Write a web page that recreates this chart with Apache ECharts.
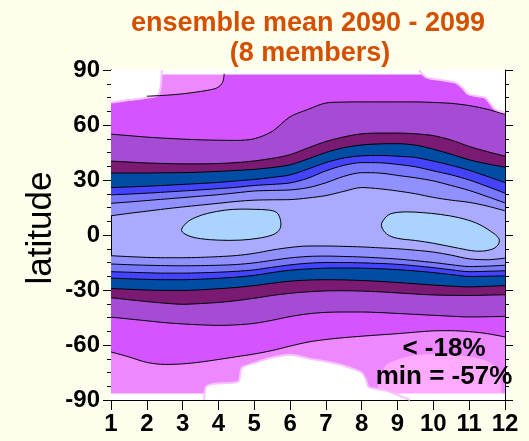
<!DOCTYPE html>
<html><head><meta charset="utf-8">
<script src="https://cdn.jsdelivr.net/npm/echarts@6/dist/echarts.min.js"></script>
<style>html,body{margin:0;padding:0;background:#ffffee;}#c{width:529px;height:441px;}</style>
</head><body><div id="c"></div>
<script>
// ---------- data ----------
const months = [1,1.5,2,2.5,3,3.5,4,4.5,5,5.5,6,6.5,7,7.5,8,8.5,9,9.5,10,10.5,11,11.5,12];
const monthTicks = [1,2,3,4,5,6,7,8,9,10,11,12];
const latTicks = [-90,-60,-30,0,30,60,90];
// Northern contour lines (equator -> pole)
const latN1 = [10.5,11.8,13,14.2,15.3,16.3,17.3,18.3,19,19.2,19.3,20.2,21.5,23.8,25.9,25.2,24,22.5,20.5,19,17.8,15.8,13.2];
const latN2 = [17.3,18,18.8,19.6,20.4,21.2,22,23,24,24.3,24.6,25.8,28.5,32,34,33.8,32.5,31.2,29.5,27,24.3,21,17.5];
const latN3 = [21.9,22.3,22.8,23.4,24,24.6,25.3,26,27,27.6,28.4,31,35,38,39.5,39.4,38.5,37.2,35,32.8,30,26.5,22.8];
const latN4 = [25.9,26.2,26.6,27.1,27.6,28.1,28.7,29.5,30.3,31.4,32.8,36,39.5,42,43.2,43.4,43,42.3,40.3,38,35.3,32,28.6];
const latN5 = [33.8,33.8,33.8,33.9,34,34.3,34.7,35.2,35.8,36.8,38.3,41.5,45,47.6,49.1,49.7,49.8,49,46.8,44,41,38.8,37];
const latN6 = [40.3,39.8,39.3,39,38.8,38.8,39,39.5,40.4,41.8,43.8,47.5,51,53.5,55.2,55.6,55.6,55.2,54.2,51.8,48.3,45.5,43];
const latN7 = [55,54.2,53.4,52.8,52.3,51.9,51.7,51.6,52.5,56.5,64.5,68.5,72,72.5,72.6,72.6,72.6,72.6,72.3,71.8,70.6,68.6,65.8];
const monthsN8 = [1,1.5,2,2.5,3,3.5,3.9,4.05,4.13,4.16];
const latN8 = [72,74,75.7,76.2,77,78.3,79.8,81.5,84,88];
// Southern contour lines (equator -> pole)
const latS1 = [-11.3,-11.8,-12.2,-12.4,-12.4,-12.2,-11.8,-11.2,-10,-8.2,-6.8,-6,-6,-6.2,-6.5,-7,-7.5,-8.3,-9.3,-11,-13,-13.5,-12.6];
const latS2 = [-15.8,-16.2,-16.5,-16.7,-16.8,-16.7,-16.5,-16.1,-15.2,-13.8,-12.5,-11.7,-11.5,-11.7,-12,-12.5,-13.1,-14,-15,-16.2,-17.2,-17,-16.5];
const latS3 = [-20,-20.3,-20.6,-20.8,-20.8,-20.6,-20.3,-19.8,-19,-17.6,-16.3,-15.4,-15,-15,-15.2,-15.5,-16,-16.8,-17.8,-19,-20,-19.8,-19.5];
const latS4 = [-23.5,-23.9,-24.2,-24.4,-24.4,-24.1,-23.6,-23,-22,-20.5,-19.2,-18.5,-18.1,-18,-18.1,-18.4,-18.9,-19.6,-20.5,-21.6,-22.6,-22.5,-22.3];
const latS5 = [-29.2,-29.6,-30,-30.2,-30.2,-29.9,-29.3,-28.6,-27.6,-26.3,-25.2,-24.6,-24.4,-24.5,-24.8,-25.3,-25.9,-26.6,-27.3,-27.9,-28.3,-28,-27.6];
const latS6 = [-34.2,-35.3,-36.3,-37.2,-37.8,-37.4,-36.8,-35.8,-34.5,-33,-31.8,-31,-30.5,-30.4,-30.6,-31,-31.6,-32.2,-32.7,-32.9,-33,-32.8,-32.6];
const latS7 = [-44.8,-45.8,-46.8,-47.8,-48.5,-49,-49.3,-49,-48.2,-46.5,-44.5,-43,-42.2,-42,-42,-42.3,-42.8,-43.3,-43.8,-44.3,-44.7,-44.6,-44.4];
const latS8 = [-63.8,-66.5,-69.5,-70.6,-70.3,-69.3,-67.9,-66.4,-64.9,-63,-60.6,-58.4,-57,-56,-55.2,-54.5,-53.8,-53,-52.3,-52.2,-52.7,-53.8,-55.6];
// strongest-decrease patch (bottom right, no contour line)
const monthsS9 = [8.4,8.55,8.7,9,9.5,10,10.5,11,11.5,11.8,11.88,11.9];
const latS9 = [-87,-76,-70.5,-68,-65.5,-65,-65.3,-66.3,-68.8,-73,-80,-87];
// closed light-blue contours around the equator
const blob1Months = [2.97,3.1,3.35,3.7,4.2,4.6,5.0,5.4,5.62,5.72,5.74,5.68,5.5,5.1,4.6,4.0,3.5,3.15];
const blob1Lats = [2.5,6.5,9.5,11.8,13.6,14.1,14,13.6,12.3,9,5,2.3,0,-1.8,-2.8,-2.8,-2,-0.3];
const blob2Months = [8.55,8.62,8.8,9.2,9.7,10.2,10.7,11.2,11.6,11.83,11.8,11.6,11.2,10.7,10.0,9.5,9.0,8.7];
const blob2Lats = [5,8.5,11.5,12.6,12.2,11.2,9.5,6.5,2,-2,-5.5,-8,-8.8,-7.2,-4.5,-3,-1.8,0.5];
// missing-data regions
const gapTLMonths = [1,1.5,2,2.3,2.38,2.42];
const gapTLLats = [72.3,73.6,74.9,76,80,90];
const gapTRMonths = [9.6,9.8,10.2,10.6,10.8,10.97,11.2,11.44,11.6,11.72,12];
const gapTRLats = [90,86,84.5,83.2,80.5,76.8,75.8,74.9,71.3,68.5,66.7];
const gapBMonths = [3.6,3.65,3.85,4.55,4.65,5.0,5.5,6.0,6.5,7.0,7.5,8.0,8.12,8.2,8.7,9.35];
const gapBLats = [-90,-83,-81.2,-80,-72.5,-69.8,-66.8,-65.3,-67.3,-69,-71.3,-75,-79,-83,-85,-90];
const dataTopLat = 87.5, dataBottomLat = -86.5;
const titleLines = ['ensemble mean 2090 - 2099', '(8 members)'];
const noteLines = ['< -18%', 'min = -57%'];

// ---------- styles ----------
const C = {
  center: '#aaaaff', blob: '#aad4ff',
  lighter: '#9090ff', peri: '#7878ff', blue: '#4444ff', dblue: '#004da6',
  dpurple: '#7a1a73', purple: '#a64cd4', magenta: '#d455ff', pink: '#ee88ff', lpink: '#ffaaff'
};
const FONT = '"Liberation Sans", Arial, Helvetica, sans-serif';
const zip = (xs, ys) => xs.map((x, i) => [x, ys[i]]);

function band(lats, xs, color, origin, lineShow) {
  return {
    type: 'line', data: zip(xs, lats), smooth: 0.3, symbol: 'none', silent: true,
    lineStyle: lineShow ? { color: '#000', width: 1 } : { width: 0, opacity: 0 },
    areaStyle: { color: color, opacity: 1, origin: origin }
  };
}
function contourLine(lats, xs) {
  return { type: 'line', data: zip(xs, lats), smooth: 0.3, symbol: 'none', silent: true,
    lineStyle: { color: '#000', width: 1 } };
}
function gap(lats, xs, origin) {
  return { type: 'line', data: zip(xs, lats), smooth: 0.25, symbol: 'none', silent: true,
    lineStyle: { color: '#f6c2ff', width: 2 },
    areaStyle: { color: '#ffffff', opacity: 1, origin: origin } };
}

const series = [];
// North: fill from each contour up to the pole, drawn equator -> pole
[[latN1, C.lighter], [latN2, C.peri], [latN3, C.blue], [latN4, C.dblue], [latN5, C.dpurple],
 [latN6, C.purple], [latN7, C.magenta]].forEach(([l, c]) => series.push(band(l, months, c, 'end', true)));
series.push(band(latN8, monthsN8, C.pink, 'end', false));
// South: fill from each contour down to the pole
[[latS1, C.lighter], [latS2, C.peri], [latS3, C.blue], [latS4, C.dblue], [latS5, C.dpurple],
 [latS6, C.purple], [latS7, C.magenta], [latS8, C.pink]].forEach(([l, c]) => series.push(band(l, months, c, 'start', true)));
series.push(band(latS9, monthsS9, C.lpink, 'start', false));
// missing data
series.push(gap(gapTLLats, gapTLMonths, 'end'));
series.push(gap(gapTRLats, gapTRMonths, 'end'));
series.push(gap(gapBLats, gapBMonths, 'start'));
// visible part of the N8 contour line
const n8Vis = monthsN8.map((m, i) => i).filter(i => monthsN8[i] >= 2);
series.push(contourLine(n8Vis.map(i => latN8[i]), n8Vis.map(i => monthsN8[i])));
// data coverage edges
series.push({ type: 'line', data: [[1, dataTopLat], [12, dataTopLat]], symbol: 'none', silent: true,
  lineStyle: { width: 0, opacity: 0 }, areaStyle: { color: '#fff', opacity: 1, origin: 'end' } });
series.push({ type: 'line', data: [[1, dataBottomLat], [12, dataBottomLat]], symbol: 'none', silent: true,
  lineStyle: { width: 0, opacity: 0 }, areaStyle: { color: '#fff', opacity: 1, origin: 'start' } });
// closed contours
const blobs = [{ m: blob1Months, l: blob1Lats }, { m: blob2Months, l: blob2Lats }];
series.push({
  type: 'custom', silent: true, coordinateSystem: 'cartesian2d',
  data: blobs.map(b => [b.m[0], b.l[0]]),
  renderItem: function (params, api) {
    const b = blobs[params.dataIndex];
    const pts = b.m.map((m, j) => api.coord([m, b.l[j]]));
    return { type: 'polygon', shape: { points: pts, smooth: 0.35 },
      style: { fill: C.blob, stroke: '#000', lineWidth: 1 } };
  }
});

const axisTxt = { fontSize: 24, fontWeight: 'bold', color: '#000', fontFamily: FONT };
const option = {
  backgroundColor: '#ffffee',
  animation: false,
  grid: { left: 111, right: 24, top: 70, bottom: 41, show: true, backgroundColor: C.center, borderWidth: 0 },
  xAxis: [
    { type: 'value', min: monthTicks[0], max: monthTicks[monthTicks.length - 1], interval: 1, position: 'bottom',
      axisLine: { show: true, onZero: false, lineStyle: { color: '#000', width: 1 } },
      axisTick: { show: true, length: 10, lineStyle: { color: '#000' } },
      axisLabel: Object.assign({ margin: 12 }, axisTxt), splitLine: { show: false } },
    { type: 'value', min: monthTicks[0], max: monthTicks[monthTicks.length - 1], position: 'top',
      axisLine: { show: true, onZero: false, lineStyle: { color: '#999', width: 1 } },
      axisTick: { show: false }, axisLabel: { show: false }, splitLine: { show: false } }
  ],
  yAxis: [
    { type: 'value', min: latTicks[0], max: latTicks[latTicks.length - 1], interval: 30, position: 'left',
      axisLine: { show: true, onZero: false, lineStyle: { color: '#000', width: 1 } },
      axisTick: { show: true, length: 8, lineStyle: { color: '#000' } },
      minorTick: { show: true, splitNumber: 4, length: 4, lineStyle: { color: '#000' } },
      axisLabel: Object.assign({ margin: 11 }, axisTxt), splitLine: { show: false }, minorSplitLine: { show: false } },
    { type: 'value', min: latTicks[0], max: latTicks[latTicks.length - 1], interval: 30, position: 'right',
      axisLine: { show: true, onZero: false, lineStyle: { color: '#000', width: 1 } },
      axisTick: { show: true, length: 8, lineStyle: { color: '#000' } },
      minorTick: { show: true, splitNumber: 4, length: 4, lineStyle: { color: '#000' } },
      axisLabel: { show: false }, splitLine: { show: false }, minorSplitLine: { show: false } }
  ],
  series: series,
  graphic: [
    { type: 'text', z: 100, x: 308, y: 24, style: { text: titleLines[0], textAlign: 'center', textVerticalAlign: 'middle',
      font: 'bold 27px ' + FONT, fill: '#d45000' } },
    { type: 'text', z: 100, x: 310, y: 54, style: { text: titleLines[1], textAlign: 'center', textVerticalAlign: 'middle',
      font: 'bold 27px ' + FONT, fill: '#d45000' } },
    { type: 'text', z: 100, x: 41, y: 228, rotation: Math.PI / 2, style: { text: 'latitude', textAlign: 'center',
      textVerticalAlign: 'middle', font: '35px ' + FONT, fill: '#000' } },
    { type: 'text', z: 100, x: 444, y: 349, style: { text: noteLines[0], textAlign: 'center', textVerticalAlign: 'middle',
      font: 'bold 26px ' + FONT, fill: '#000' } },
    { type: 'text', z: 100, x: 444, y: 377, style: { text: noteLines[1], textAlign: 'center', textVerticalAlign: 'middle',
      font: 'bold 26px ' + FONT, fill: '#000' } }
  ]
};
const chart = echarts.init(document.getElementById('c'), null, { renderer: 'canvas' });
chart.setOption(option);
</script></body></html>
